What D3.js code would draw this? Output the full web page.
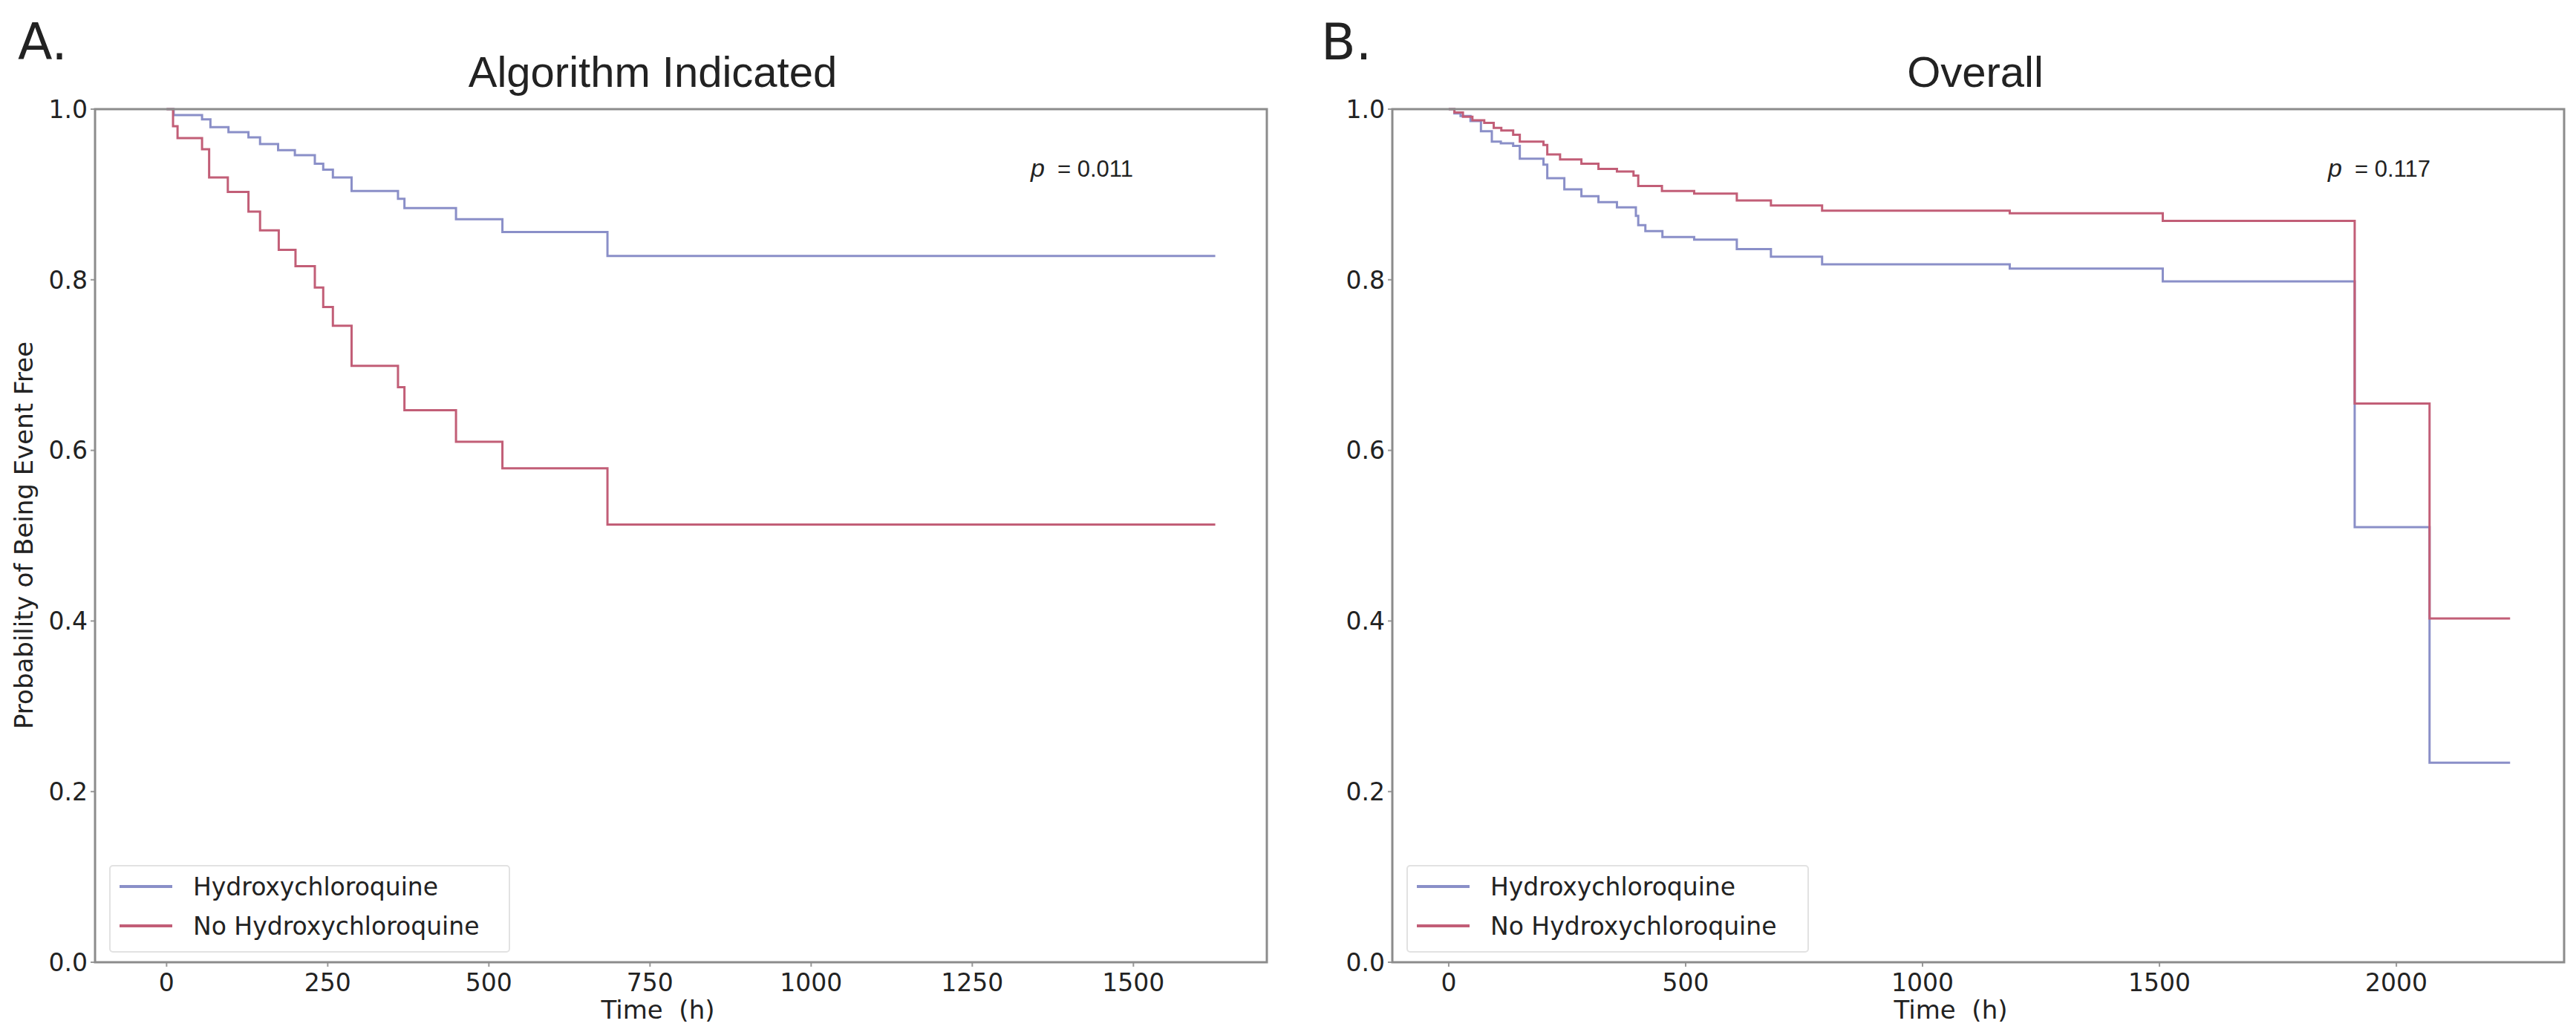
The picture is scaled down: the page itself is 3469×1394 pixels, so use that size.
<!DOCTYPE html>
<html>
<head>
<meta charset="utf-8">
<script src="https://cdn.jsdelivr.net/npm/d3@7"></script>
<style>
  body { margin: 0; background: #fff; }
  text { font-family: "DejaVu Sans", sans-serif; fill: #222; }
</style>
</head>
<body>
<div id="main"></div>
<script>
const width = 3469;
const height = 1394;

// Panel A: algorithm indicated
const aHcqTime = [0, 11, 55, 68, 96, 127, 145, 173, 199, 230, 243, 258, 287, 359, 369, 449, 521, 684, 1627];
const aHcqSurv = [1.0, 0.993, 0.988, 0.979, 0.973, 0.967, 0.959, 0.952, 0.946, 0.936, 0.929, 0.92, 0.904, 0.895, 0.884, 0.871, 0.856, 0.828, 0.828];
const aNoTime = [0, 10, 17, 55, 66, 95, 127, 145, 174, 200, 230, 243, 258, 287, 359, 369, 449, 521, 684, 1627];
const aNoSurv = [1.0, 0.98, 0.966, 0.953, 0.92, 0.903, 0.88, 0.858, 0.835, 0.816, 0.791, 0.768, 0.746, 0.699, 0.674, 0.647, 0.61, 0.579, 0.513, 0.513];

// Panel B: overall
const bHcqTime = [0, 12, 25, 46, 68, 91, 110, 136, 150, 200, 208, 244, 280, 316, 355, 395, 400, 415, 451, 518, 608, 680, 788, 1184, 1507, 1912, 2070, 2240];
const bHcqSurv = [1.0, 0.995, 0.992, 0.986, 0.974, 0.962, 0.96, 0.957, 0.942, 0.935, 0.919, 0.906, 0.898, 0.891, 0.885, 0.875, 0.864, 0.857, 0.85, 0.847, 0.836, 0.827, 0.818, 0.813, 0.798, 0.51, 0.234, 0.234];
const bNoTime = [0, 12, 30, 50, 75, 95, 111, 136, 150, 200, 208, 235, 280, 316, 355, 390, 400, 450, 518, 608, 680, 788, 1184, 1507, 1912, 2070, 2240];
const bNoSurv = [1.0, 0.996, 0.991, 0.987, 0.984, 0.978, 0.975, 0.97, 0.962, 0.958, 0.947, 0.941, 0.936, 0.93, 0.927, 0.922, 0.91, 0.904, 0.901, 0.893, 0.887, 0.881, 0.878, 0.869, 0.655, 0.403, 0.403];

const seriesNames = ["Hydroxychloroquine", "No Hydroxychloroquine"];
const seriesColors = ["#8a8fc8", "#c25e77"];
const yTicks = [0.0, 0.2, 0.4, 0.6, 0.8, 1.0];
const aXTicks = [0, 250, 500, 750, 1000, 1250, 1500];
const bXTicks = [0, 500, 1000, 1500, 2000];
const pValues = ["0.011", "0.117"];

const svg = d3
  .select("#main")
  .append("svg")
  .attr("width", width)
  .attr("height", height);

const plotTop = 147;
const plotBottom = 1296;

const y = d3.scaleLinear().domain([0, 1]).range([plotBottom, plotTop]);

function drawPanel(p) {
  const x = d3.scaleLinear().domain(p.domain).range([p.left, p.right]);
  const g = svg.append("g");

  // ticks
  g.selectAll(".xtick")
    .data(p.xTicks)
    .enter()
    .append("line")
    .attr("x1", (d) => x(d))
    .attr("x2", (d) => x(d))
    .attr("y1", plotBottom)
    .attr("y2", plotBottom + 6)
    .attr("stroke", "#999")
    .attr("stroke-width", 2);
  g.selectAll(".xlab")
    .data(p.xTicks)
    .enter()
    .append("text")
    .attr("x", (d) => x(d))
    .attr("y", 1335)
    .attr("text-anchor", "middle")
    .attr("font-size", 33)
    .text((d) => d);

  g.selectAll(".ytick")
    .data(yTicks)
    .enter()
    .append("line")
    .attr("x1", p.left - 6)
    .attr("x2", p.left)
    .attr("y1", (d) => y(d))
    .attr("y2", (d) => y(d))
    .attr("stroke", "#999")
    .attr("stroke-width", 2);
  g.selectAll(".ylab")
    .data(yTicks)
    .enter()
    .append("text")
    .attr("x", p.left - 10)
    .attr("y", (d) => y(d))
    .attr("dy", "0.36em")
    .attr("text-anchor", "end")
    .attr("font-size", 33)
    .text((d) => d.toFixed(1));

  // curves
  const line = d3
    .line()
    .x((d) => x(d[0]))
    .y((d) => y(d[1]))
    .curve(d3.curveStepAfter);

  p.series.forEach((s, i) => {
    g.append("path")
      .datum(d3.zip(s.time, s.surv))
      .attr("d", line)
      .attr("fill", "none")
      .attr("stroke", seriesColors[i])
      .attr("stroke-width", 3);
  });

  // frame
  g.append("rect")
    .attr("x", p.left)
    .attr("y", plotTop)
    .attr("width", p.right - p.left)
    .attr("height", plotBottom - plotTop)
    .attr("fill", "none")
    .attr("stroke", "#8c8c8c")
    .attr("stroke-width", 3);

  // legend
  const lg = g.append("g");
  lg.append("rect")
    .attr("x", p.legendX)
    .attr("y", 1166)
    .attr("width", p.legendW)
    .attr("height", 116)
    .attr("rx", 4)
    .attr("fill", "#fff")
    .attr("stroke", "#e2e2e2")
    .attr("stroke-width", 2);
  seriesNames.forEach((name, i) => {
    const ly = 1194 + i * 53;
    lg.append("line")
      .attr("x1", p.legendX + 13)
      .attr("x2", p.legendX + 84)
      .attr("y1", ly)
      .attr("y2", ly)
      .attr("stroke", seriesColors[i])
      .attr("stroke-width", 4);
    lg.append("text")
      .attr("x", p.legendX + 112)
      .attr("y", ly)
      .attr("dy", "0.36em")
      .attr("font-size", 33)
      .text(name);
  });

  // titles
  svg.append("text")
    .attr("x", p.titleX)
    .attr("y", 117)
    .attr("text-anchor", "middle")
    .attr("font-size", 58)
    .style("font-family", "'Liberation Sans', Arial, sans-serif")
    .text(p.title);
  svg.append("text")
    .attr("x", p.letterX)
    .attr("y", 80)
    .attr("font-size", 68)
    .text(p.letter);
  svg.append("text")
    .attr("x", p.xLabelX)
    .attr("y", 1372)
    .attr("text-anchor", "middle")
    .attr("font-size", 34)
    .style("white-space", "pre")
    .text("Time  (h)");

  // p value
  svg.append("text")
    .attr("x", p.pX)
    .attr("y", 238)
    .attr("font-size", 34)
    .attr("font-style", "italic")
    .style("font-family", "'Liberation Sans', Arial, sans-serif")
    .text("p");
  svg.append("text")
    .attr("x", p.pX + 36)
    .attr("y", 238)
    .attr("font-size", 31)
    .style("font-family", "'Liberation Sans', Arial, sans-serif")
    .text("= " + p.pValue);
}

drawPanel({
  left: 128,
  right: 1706,
  domain: [-111, 1707],
  xTicks: aXTicks,
  series: [
    { time: aHcqTime, surv: aHcqSurv },
    { time: aNoTime, surv: aNoSurv },
  ],
  legendX: 148,
  legendW: 538,
  title: "Algorithm Indicated",
  titleX: 879,
  letter: "A.",
  letterX: 24,
  xLabelX: 886,
  pX: 1388,
  pValue: pValues[0],
});

drawPanel({
  left: 1875,
  right: 3453,
  domain: [-119, 2354],
  xTicks: bXTicks,
  series: [
    { time: bHcqTime, surv: bHcqSurv },
    { time: bNoTime, surv: bNoSurv },
  ],
  legendX: 1895,
  legendW: 540,
  title: "Overall",
  titleX: 2660,
  letter: "B.",
  letterX: 1779,
  xLabelX: 2627,
  pX: 3135,
  pValue: pValues[1],
});

// y axis label (panel A only)
svg.append("text")
  .attr("transform", "translate(44,721) rotate(-90)")
  .attr("text-anchor", "middle")
  .attr("font-size", 34)
  .text("Probability of Being Event Free");
</script>
</body>
</html>
